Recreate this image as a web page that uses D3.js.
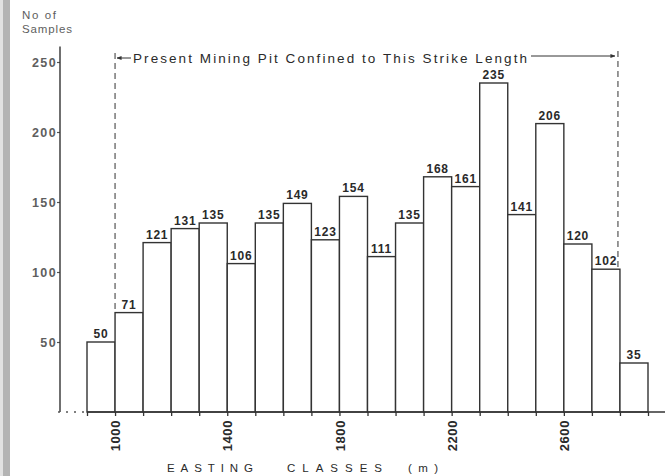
<!DOCTYPE html>
<html>
<head>
<meta charset="utf-8">
<script src="https://cdn.jsdelivr.net/npm/d3@7"></script>
<style>
  html, body { margin: 0; padding: 0; background: #fff; }
  svg { display: block; }
  text { font-family: "Liberation Sans", Arial, Helvetica, sans-serif; }
</style>
</head>
<body>
<svg id="chart" width="665" height="476"></svg>
<script>
// Class start (m) of each 100 m easting class and its sample count
const classStarts = [900, 1000, 1100, 1200, 1300, 1400, 1500, 1600, 1700, 1800,
                     1900, 2000, 2100, 2200, 2300, 2400, 2500, 2600, 2700, 2800];
const sampleCounts = [50, 71, 121, 131, 135, 106, 135, 149, 123, 154,
                      111, 135, 168, 161, 235, 141, 206, 120, 102, 35];
const classWidth = 100;
const yTicks = [50, 100, 150, 200, 250];
const xLabelTicks = [1000, 1400, 1800, 2200, 2600];
const pitStart = 1000, pitEnd = 2800;

const svg = d3.select("#chart");
const ink = "#333";

// scanned page edge strip
svg.append("rect").attr("x", 0).attr("y", 0).attr("width", 3).attr("height", 476).attr("fill", "#e2e2e2");
svg.append("rect").attr("x", 3).attr("y", 0).attr("width", 7).attr("height", 476).attr("fill", "#b4b4b4");

const x = d3.scaleLinear().domain([900, 2900]).range([87, 648]);
const y = d3.scaleLinear().domain([0, 250]).range([412, 62]);
const axisX = 60;

// bars
svg.append("g").selectAll("rect")
  .data(classStarts.map((s, i) => ({ s, v: sampleCounts[i] })))
  .join("rect")
  .attr("x", d => x(d.s))
  .attr("y", d => y(d.v))
  .attr("width", d => x(d.s + classWidth) - x(d.s))
  .attr("height", d => y(0) - y(d.v))
  .attr("fill", "#fff")
  .attr("stroke", ink)
  .attr("stroke-width", 1.4);

// value labels
svg.append("g").selectAll("text")
  .data(classStarts.map((s, i) => ({ s, v: sampleCounts[i] })))
  .join("text")
  .attr("x", d => x(d.s + classWidth / 2))
  .attr("y", d => y(d.v) - 4)
  .attr("text-anchor", "middle")
  .attr("font-size", 12)
  .attr("font-weight", "bold")
  .attr("letter-spacing", 0.8)
  .attr("fill", "#2a2a2a")
  .text(d => d.v);

// y axis
const yAxis = d3.axisLeft(y).tickValues(yTicks).tickSize(3).tickSizeOuter(0);
const gy = svg.append("g").attr("transform", `translate(${axisX},0)`).call(yAxis);
gy.select(".domain").remove();
gy.selectAll(".tick line").attr("stroke", "#555").attr("stroke-width", 1.2);
gy.selectAll(".tick text")
  .attr("x", -3)
  .attr("font-size", 12.5)
  .attr("font-weight", "bold")
  .attr("letter-spacing", 1.4)
  .attr("font-family", "'Liberation Sans', Arial, sans-serif")
  .attr("fill", "#5e5e5e");
svg.append("line")
  .attr("x1", axisX).attr("x2", axisX)
  .attr("y1", y(0)).attr("y2", y(261))
  .attr("stroke", ink).attr("stroke-width", 1.4);

// x axis: baseline, class ticks and labels
const xAxis = d3.axisBottom(x)
  .tickValues(d3.range(900, 2901, 100))
  .tickSize(4)
  .tickSizeOuter(0)
  .tickFormat(d => xLabelTicks.includes(d) ? d : "");
const gx = svg.append("g").attr("transform", `translate(0,${y(0)})`).call(xAxis);
gx.select(".domain").remove();
gx.selectAll(".tick line").attr("stroke", ink).attr("stroke-width", 1.3);
gx.selectAll(".tick text")
  .attr("transform", "rotate(-90)")
  .attr("x", -8)
  .attr("y", 0)
  .attr("dy", "0.36em")
  .attr("text-anchor", "end")
  .attr("font-size", 13)
  .attr("font-weight", "bold")
  .attr("letter-spacing", 0.6)
  .attr("fill", "#2a2a2a");
svg.append("line")
  .attr("x1", x(900)).attr("x2", 665)
  .attr("y1", y(0)).attr("y2", y(0))
  .attr("stroke", ink).attr("stroke-width", 1.4);
svg.append("line")
  .attr("x1", axisX - 2).attr("x2", x(900))
  .attr("y1", y(0)).attr("y2", y(0))
  .attr("stroke", "#555").attr("stroke-width", 1.4)
  .attr("stroke-dasharray", "2,6");

// pit limits
svg.append("line")
  .attr("x1", x(pitStart)).attr("x2", x(pitStart))
  .attr("y1", 53).attr("y2", y(sampleCounts[classStarts.indexOf(pitStart)]))
  .attr("stroke", "#555").attr("stroke-width", 1.2)
  .attr("stroke-dasharray", "6,4");
svg.append("line")
  .attr("x1", x(pitEnd) - 2).attr("x2", x(pitEnd) - 2)
  .attr("y1", 51).attr("y2", y(sampleCounts[classStarts.indexOf(pitEnd - classWidth)]))
  .attr("stroke", "#555").attr("stroke-width", 1.2)
  .attr("stroke-dasharray", "6,4");

const defs = svg.append("defs");
defs.append("marker")
  .attr("id", "head")
  .attr("viewBox", "0 0 10 10")
  .attr("refX", 9).attr("refY", 5)
  .attr("markerWidth", 5).attr("markerHeight", 5)
  .attr("orient", "auto-start-reverse")
  .append("path").attr("d", "M0,1 L10,5 L0,9 Z").attr("fill", ink);

svg.append("line")
  .attr("x1", 131).attr("x2", x(pitStart) + 2)
  .attr("y1", 58).attr("y2", 58)
  .attr("stroke", ink).attr("stroke-width", 1)
  .attr("marker-end", "url(#head)");
svg.append("line")
  .attr("x1", 531).attr("x2", x(pitEnd) - 5)
  .attr("y1", 56).attr("y2", 56)
  .attr("stroke", ink).attr("stroke-width", 1)
  .attr("marker-end", "url(#head)");
svg.append("text")
  .attr("x", 133).attr("y", 62.5)
  .attr("font-size", 13.5)
  .attr("textLength", 394)
  .attr("lengthAdjust", "spacing")
  .attr("fill", "#2a2a2a")
  .text("Present Mining Pit  Confined to This Strike Length");

// axis titles
svg.append("text").attr("x", 22).attr("y", 19)
  .attr("font-size", 11.5).attr("fill", "#5e5e5e")
  .attr("textLength", 34).attr("lengthAdjust", "spacing")
  .text("No of");
svg.append("text").attr("x", 22).attr("y", 33)
  .attr("font-size", 11.5).attr("fill", "#5e5e5e")
  .attr("textLength", 50).attr("lengthAdjust", "spacing")
  .text("Samples");

const xTitle = [["EASTING", 167, 86], ["CLASSES", 287, 95], ["(m)", 408, 30]];
svg.append("g").selectAll("text")
  .data(xTitle)
  .join("text")
  .attr("x", d => d[1]).attr("y", 472)
  .attr("font-size", 11.5)
  .attr("fill", "#2a2a2a")
  .attr("textLength", d => d[2])
  .attr("lengthAdjust", "spacing")
  .text(d => d[0]);
</script>
</body>
</html>
